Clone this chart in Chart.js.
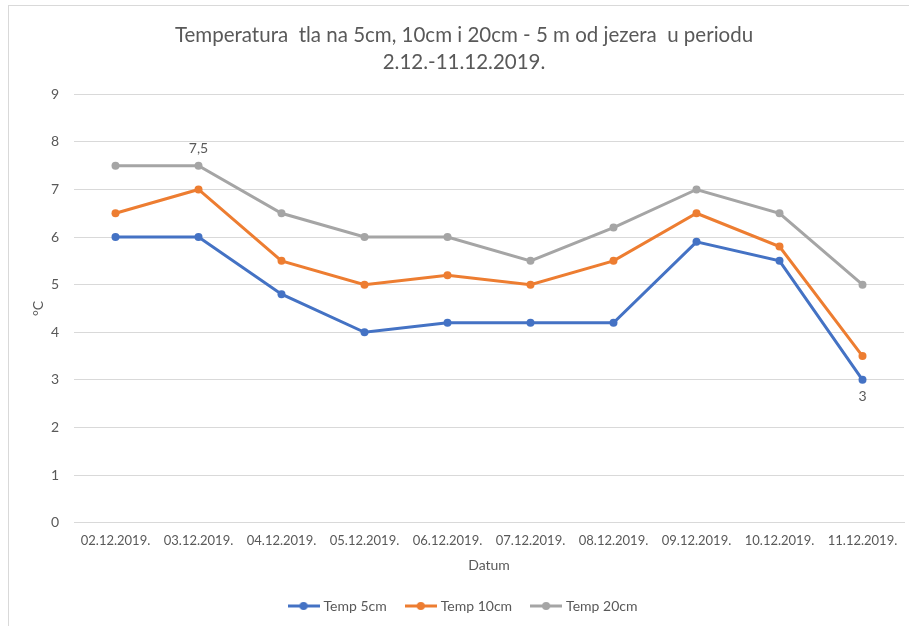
<!DOCTYPE html>
<html>
<head>
<meta charset="utf-8">
<script src="https://cdn.jsdelivr.net/npm/chart.js"></script>
<style>
  html, body { margin: 0; padding: 0; background: #fff; overflow: hidden; }
  #wrap { position: relative; width: 909px; height: 626px; }
  #frame { position: absolute; left: 8px; top: 5px; width: 1000px; height: 1000px; border: 1px solid #d9d9d9; box-sizing: border-box; }
  #c { position: absolute; left: 0; top: 0; }
</style>
</head>
<body>
<div id="wrap">
  <div id="frame"></div>
  <canvas id="c" width="909" height="626"></canvas>
</div>
<script>
  var dates = ['02.12.2019.', '03.12.2019.', '04.12.2019.', '05.12.2019.', '06.12.2019.',
               '07.12.2019.', '08.12.2019.', '09.12.2019.', '10.12.2019.', '11.12.2019.'];
  var temp5 = [6, 6, 4.8, 4, 4.2, 4.2, 4.2, 5.9, 5.5, 3];
  var temp10 = [6.5, 7, 5.5, 5, 5.2, 5, 5.5, 6.5, 5.8, 3.5];
  var temp20 = [7.5, 7.5, 6.5, 6, 6, 5.5, 6.2, 7, 6.5, 5];

  // only two points carry a label in the original
  var pointLabels = [
    { series: 2, index: 1, text: '7,5', pos: 'above' },
    { series: 0, index: 9, text: '3', pos: 'below' }
  ];

  var FONT = 'Lato, "Open Sans", sans-serif';
  var grey = '#595959';

  // legend marker: short line with a dot in the middle
  function legendMark(color) {
    var cv = document.createElement('canvas');
    cv.width = 32; cv.height = 10;
    var g = cv.getContext('2d');
    g.strokeStyle = color;
    g.lineWidth = 3;
    g.beginPath(); g.moveTo(0, 5); g.lineTo(32, 5); g.stroke();
    g.fillStyle = color;
    g.beginPath(); g.arc(16, 5, 4, 0, Math.PI * 2); g.fill();
    return cv;
  }

  var labelPlugin = {
    id: 'pointLabels',
    afterDatasetsDraw: function(chart) {
      var ctx = chart.ctx;
      ctx.save();
      ctx.font = '14px ' + FONT;
      ctx.fillStyle = grey;
      ctx.textAlign = 'center';
      pointLabels.forEach(function(l) {
        var pt = chart.getDatasetMeta(l.series).data[l.index];
        if (!pt) return;
        if (l.pos === 'above') {
          ctx.textBaseline = 'bottom';
          ctx.fillText(l.text, pt.x, pt.y - 10);
        } else {
          ctx.textBaseline = 'top';
          ctx.fillText(l.text, pt.x, pt.y + 10);
        }
      });
      // y axis title
      var area = chart.chartArea;
      ctx.translate(38, (area.top + area.bottom) / 2);
      ctx.rotate(-Math.PI / 2);
      ctx.textBaseline = 'middle';
      ctx.fillText('°C', 0, 0);
      ctx.restore();
    }
  };

  function ds(label, data, color) {
    return {
      label: label,
      data: data,
      borderColor: color,
      backgroundColor: color,
      borderWidth: 3,
      pointRadius: 4,
      pointHoverRadius: 4,
      pointBorderWidth: 0,
      pointStyle: 'circle',
      tension: 0,
      fill: false,
      legendImg: legendMark(color)
    };
  }

  new Chart(document.getElementById('c'), {
    type: 'line',
    data: {
      labels: dates,
      datasets: [
        ds('Temp 5cm', temp5, '#4472c4'),
        ds('Temp 10cm', temp10, '#ed7d31'),
        ds('Temp 20cm', temp20, '#a5a5a5')
      ]
    },
    plugins: [labelPlugin],
    options: {
      responsive: false,
      animation: false,
      layout: { padding: { left: 24, right: 5, top: 22, bottom: 3 } },
      plugins: {
        title: {
          display: true,
          text: ['Temperatura  tla na 5cm, 10cm i 20cm - 5 m od jezera  u periodu', '2.12.-11.12.2019.'],
          color: grey,
          font: { family: FONT, size: 20.5, weight: 'normal', lineHeight: 1.3 },
          padding: { top: 0, bottom: 19 }
        },
        legend: {
          position: 'bottom',
          labels: {
            color: grey,
            font: { family: FONT, size: 14 },
            usePointStyle: true,
            pointStyleWidth: 26,
            padding: 21,
            generateLabels: function(chart) {
              return chart.data.datasets.map(function(d, i) {
                return {
                  text: d.label,
                  fontColor: grey,
                  pointStyle: d.legendImg,
                  lineWidth: 0,
                  strokeStyle: 'transparent',
                  fillStyle: d.borderColor,
                  datasetIndex: i,
                  hidden: false
                };
              });
            }
          }
        },
        tooltip: { enabled: false }
      },
      scales: {
        x: {
          offset: true,
          grid: { display: false },
          border: { color: '#d9d9d9' },
          ticks: { color: grey, font: { family: FONT, size: 13 }, maxRotation: 0, padding: 2 },
          title: { display: true, text: 'Datum', color: grey, font: { family: FONT, size: 14 }, padding: { top: 7, bottom: 4 } }
        },
        y: {
          min: 0,
          max: 9,
          afterFit: function(scale) { scale.width = 50; },
          grid: { color: '#d9d9d9', drawTicks: false },
          border: { display: false },
          ticks: { stepSize: 1, color: grey, font: { family: FONT, size: 14 }, padding: 15 }
        }
      }
    }
  });
</script>
</body>
</html>
